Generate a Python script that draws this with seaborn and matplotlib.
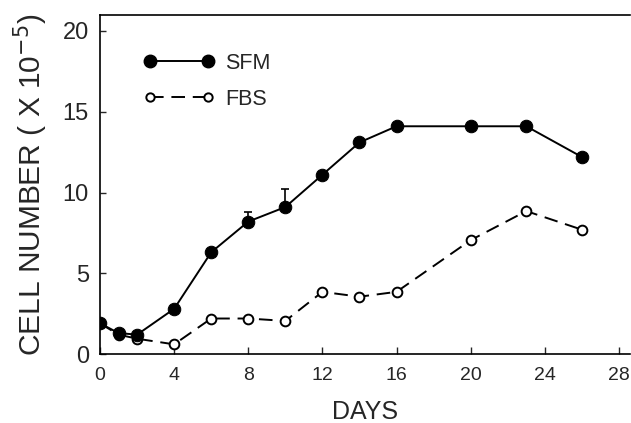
import matplotlib
matplotlib.use("Agg")
import matplotlib.pyplot as plt
import seaborn as sns
import pandas as pd
from matplotlib.lines import Line2D

days = [0, 1, 2, 4, 6, 8, 10, 12, 14, 16, 20, 23, 26]
sfm = [1.9, 1.3, 1.2, 2.8, 6.3, 8.2, 9.1, 11.1, 13.1, 14.1, 14.1, 14.1, 12.2]
fbs = [1.9, 1.2, 0.95, 0.6, 2.2, 2.2, 2.05, 3.85, 3.55, 3.85, 7.05, 8.85, 7.7]
err_days = [8, 10]
err_sfm = [0.6, 1.1]
xticks = [0, 4, 8, 12, 16, 20, 24, 28]
yticks = [0, 5, 10, 15, 20]

sns.set_theme(style="white")
plt.rcParams['font.family'] = ['Liberation Sans', 'DejaVu Sans']

fig = plt.figure(figsize=(6.31, 4.23), dpi=100)
ax = fig.add_axes([0.1585, 0.163, 0.84, 0.802])

df_s = pd.DataFrame({"day": days, "val": sfm})
df_f = pd.DataFrame({"day": days, "val": fbs})

sns.lineplot(data=df_f, x="day", y="val", ax=ax, color="black", lw=1.4,
             marker="o", markersize=7, markerfacecolor="white",
             markeredgecolor="black", markeredgewidth=1.4,
             dashes=False, linestyle=(0, (7, 4)), zorder=2)
sns.lineplot(data=df_s, x="day", y="val", ax=ax, color="black", lw=1.4,
             marker="o", markersize=9, markerfacecolor="black",
             markeredgecolor="black", zorder=3)

# upper error bars for SFM
err_vals = [sfm[days.index(d)] for d in err_days]
ax.errorbar(err_days, err_vals, yerr=[[0] * len(err_sfm), err_sfm], fmt="none",
            ecolor="black", elinewidth=1.2, capsize=3, capthick=1.2, zorder=1)

ax.set_xlim(0, 28.6)
ax.set_ylim(0, 21)
ax.set_xticks(xticks)
ax.set_yticks(yticks)
ax.tick_params(axis="x", direction="in", length=5, width=1, labelsize=14, pad=9, bottom=True)
ax.tick_params(axis="y", direction="in", length=4, width=1, labelsize=17, pad=8, left=True)
ax.set_xlabel("DAYS", fontsize=18, labelpad=12)
ax.set_ylabel("CELL NUMBER ( X 10$^{-5}$)", fontsize=21.5, labelpad=9)

for s in ["left", "bottom", "top"]:
    ax.spines[s].set_color("black")
    ax.spines[s].set_linewidth(1.2)
ax.spines["right"].set_visible(False)

handles = [
    Line2D([0], [0], color="black", lw=1.4, marker="o", markersize=9,
           markerfacecolor="black", markeredgecolor="black"),
    Line2D([0], [0], color="black", lw=1.4, linestyle=(0, (7, 4)), marker="o",
           markersize=6, markerfacecolor="white", markeredgecolor="black",
           markeredgewidth=1.4),
]
ax.legend(handles, ["SFM", "FBS"], loc="upper left", bbox_to_anchor=(0.045, 0.945),
          frameon=False, fontsize=15.5, handlelength=3.3, numpoints=2,
          handletextpad=0.5, labelspacing=0.7)

fig.savefig("out.png", dpi=100)
